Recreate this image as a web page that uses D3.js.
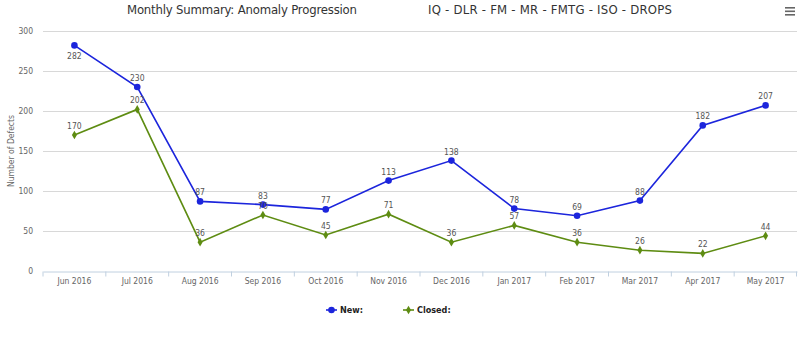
<!DOCTYPE html>
<html>
<head>
<meta charset="utf-8">
<script src="https://cdn.jsdelivr.net/npm/d3@7"></script>
<style>
  body { margin: 0; background: #fff; }
  svg { font-family: "DejaVu Sans Condensed", "DejaVu Sans", sans-serif; }
</style>
</head>
<body>
<div id="container"></div>
<script>
const months = ['Jun 2016', 'Jul 2016', 'Aug 2016', 'Sep 2016', 'Oct 2016', 'Nov 2016',
    'Dec 2016', 'Jan 2017', 'Feb 2017', 'Mar 2017', 'Apr 2017', 'May 2017'];
const newDefects = [282, 230, 87, 83, 77, 113, 138, 78, 69, 88, 182, 207];
const closedDefects = [170, 202, 36, 70, 45, 71, 36, 57, 36, 26, 22, 44];
const yTicks = [0, 50, 100, 150, 200, 250, 300];

const series = [
    { name: 'New:', values: newDefects, color: '#1c25dc', marker: 'circle' },
    { name: 'Closed:', values: closedDefects, color: '#5e8c12', marker: 'diamond' }
];

const w = 800;
const h = 350;
const margin = { top: 31, right: 3, bottom: 79, left: 43 };

const svg = d3.select('#container').append('svg')
    .attr('width', w)
    .attr('height', h);

const x = d3.scaleBand()
    .domain(months)
    .range([margin.left, w - margin.right]);

const y = d3.scaleLinear()
    .domain([0, 300])
    .range([h - margin.bottom, margin.top]);

// title
svg.append('text')
    .attr('x', 127)
    .attr('y', 14)
    .attr('font-size', 13)
    .attr('fill', '#333')
    .attr('textLength', 230)
    .text('Monthly Summary: Anomaly Progression');

svg.append('text')
    .attr('x', 428)
    .attr('y', 14)
    .attr('font-size', 13)
    .attr('fill', '#333')
    .attr('textLength', 244)
    .text('IQ - DLR - FM - MR - FMTG - ISO - DROPS');

// menu icon
svg.append('g')
    .selectAll('rect')
    .data([0, 1, 2])
    .join('rect')
    .attr('x', 785)
    .attr('y', d => 7 + d * 3.5)
    .attr('width', 10)
    .attr('height', 1.6)
    .attr('fill', '#666');

// grid
svg.append('g')
    .selectAll('line')
    .data(yTicks.filter(d => d > 0))
    .join('line')
    .attr('x1', margin.left)
    .attr('x2', w - margin.right)
    .attr('y1', d => y(d) + 0.5)
    .attr('y2', d => y(d) + 0.5)
    .attr('stroke', '#d8d8d8');

// y axis labels
svg.append('g')
    .selectAll('text')
    .data(yTicks)
    .join('text')
    .attr('x', 33)
    .attr('y', d => y(d) + 3)
    .attr('text-anchor', 'end')
    .attr('font-size', 8.5)
    .attr('fill', '#666')
    .text(d => d);

svg.append('text')
    .attr('transform', `translate(14, ${(y(0) + y(300)) / 2}) rotate(-90)`)
    .attr('text-anchor', 'middle')
    .attr('font-size', 8.5)
    .attr('fill', '#666')
    .text('Number of Defects');

// x axis
const xAxis = d3.axisBottom(x).tickSize(0).tickPadding(0);
const gx = svg.append('g')
    .attr('transform', `translate(0, ${y(0) + 0.5})`)
    .call(xAxis);
gx.select('.domain').attr('stroke', '#c0d0e0');
gx.selectAll('text')
    .attr('y', 12)
    .attr('dy', 0)
    .attr('font-family', '"DejaVu Sans Condensed", sans-serif')
    .attr('font-size', 8.5)
    .attr('fill', '#666');

gx.selectAll('.tickmark')
    .data(months.concat(['end']))
    .join('line')
    .attr('class', 'tickmark')
    .attr('x1', (d, i) => i < months.length ? x(d) : x.range()[1] - 0.5)
    .attr('x2', (d, i) => i < months.length ? x(d) : x.range()[1] - 0.5)
    .attr('y1', 0)
    .attr('y2', 5)
    .attr('stroke', '#c0d0e0');

// lines
const cx = (d, i) => x(months[i]) + x.bandwidth() / 2;
const line = d3.line()
    .x(cx)
    .y(d => y(d));

const diamond = d3.symbol().type(d3.symbolDiamond).size(22);

series.forEach(s => {
    const g = svg.append('g');
    g.append('path')
        .datum(s.values)
        .attr('d', line)
        .attr('fill', 'none')
        .attr('stroke', s.color)
        .attr('stroke-width', 1.6);

    if (s.marker === 'circle') {
        g.selectAll('circle')
            .data(s.values)
            .join('circle')
            .attr('cx', cx)
            .attr('cy', d => y(d))
            .attr('r', 3.3)
            .attr('fill', s.color);
    } else {
        g.selectAll('path.m')
            .data(s.values)
            .join('path')
            .attr('class', 'm')
            .attr('d', diamond)
            .attr('transform', (d, i) => `translate(${cx(d, i)}, ${y(d)})`)
            .attr('fill', s.color);
    }

    g.selectAll('text')
        .data(s.values)
        .join('text')
        .attr('x', cx)
        .attr('y', d => y(d) - 6 < margin.top + 10 ? y(d) + 14 : y(d) - 6)
        .attr('text-anchor', 'middle')
        .attr('font-size', 8.5)
        .attr('fill', '#555')
        .text(d => d);
});

// legend
const legendItems = [
    { s: series[0], x: 326 },
    { s: series[1], x: 403 }
];
legendItems.forEach(item => {
    const lg = svg.append('g').attr('transform', `translate(${item.x}, 310)`);
    lg.append('line')
        .attr('x1', 0).attr('x2', 11)
        .attr('stroke', item.s.color)
        .attr('stroke-width', 1.6);
    if (item.s.marker === 'circle') {
        lg.append('circle').attr('cx', 5.5).attr('r', 3.3).attr('fill', item.s.color);
    } else {
        lg.append('path').attr('d', diamond).attr('transform', 'translate(5.5,0)').attr('fill', item.s.color);
    }
    lg.append('text')
        .attr('x', 14)
        .attr('y', 3)
        .attr('font-size', 9)
        .attr('font-weight', 'bold')
        .attr('fill', '#222')
        .text(item.s.name);
});
</script>
</body>
</html>
